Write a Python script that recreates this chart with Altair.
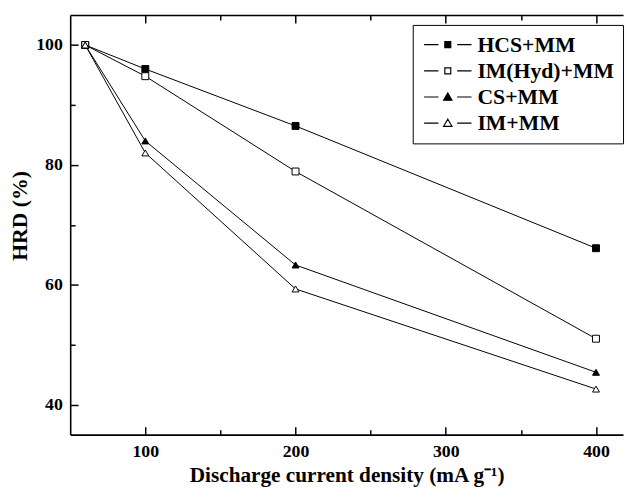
import altair as alt
import pandas as pd

# ---- data ----
series = ["HCS+MM", "IM(Hyd)+MM", "CS+MM", "IM+MM"]
current = [60, 100, 200, 400]
hcs = [100, 96.0, 86.5, 66.1]
imhyd = [100, 94.8, 78.9, 51.0]
cs = [100, 84.0, 63.3, 45.4]
im = [100, 82.0, 59.3, 42.6]

x_labels = [100, 200, 300, 400]
x_all_ticks = [100, 150, 200, 250, 300, 350, 400]
y_labels = [40, 60, 80, 100]
y_all_ticks = [40, 50, 60, 70, 80, 90, 100]

rows = []
for name, vals in zip(series, [hcs, imhyd, cs, im]):
    for c, v in zip(current, vals):
        rows.append({"series": name, "current": c, "hrd": v})
df = pd.DataFrame(rows)

W, H = 560, 425
FONT = "Liberation Serif"
xscale = alt.Scale(domain=[50, 418], nice=False, zero=False)
yscale = alt.Scale(domain=[35, 105], nice=False, zero=False)

shape_plot = alt.Scale(domain=series, range=["square", "square", "triangle-up", "triangle-up"])
size_plot = alt.Scale(domain=series, range=[49, 49, 85, 85])
fill_scale = alt.Scale(domain=series, range=["black", "white", "black", "white"])
stroke_scale = alt.Scale(domain=series, range=["black", "black", "black", "black"])

sq_path = "M-2.4,0H-0.95M0.95,0H2.4M-0.3,-0.3H0.3V0.3H-0.3Z"
tri_path = "M-2.4,0H-0.95M0.95,0H2.4M0,-0.4L0.42,0.32L-0.42,0.32Z"
shape_legend = alt.Scale(domain=series, range=[sq_path, sq_path, tri_path, tri_path])

base = alt.Chart(df)

x_main = alt.X(
    "current:Q", scale=xscale,
    axis=alt.Axis(values=x_labels, ticks=False, grid=False, domain=True,
                  domainColor="black", domainWidth=1.6,
                  labelFont=FONT, labelFontSize=18, labelFontWeight="bold",
                  labelColor="black", labelPadding=8,
                  title="Discharge current density (mA g\u207b\u00b9)",
                  titleFont=FONT, titleFontSize=21.5, titleFontWeight="bold",
                  titleColor="black", titlePadding=4),
)
y_main = alt.Y(
    "hrd:Q", scale=yscale,
    axis=alt.Axis(values=y_labels, ticks=False, grid=False, domain=True,
                  domainColor="black", domainWidth=1.6,
                  labelFont=FONT, labelFontSize=18, labelFontWeight="bold",
                  labelColor="black", labelPadding=8,
                  title="HRD (%)", titleY=203,
                  titleFont=FONT, titleFontSize=22, titleFontWeight="bold",
                  titleColor="black", titlePadding=4),
)

lines = base.mark_line(color="black", strokeWidth=1).encode(
    x=x_main, y=y_main, detail="series:N"
)

points = base.mark_point(filled=True, stroke="black", strokeWidth=1, opacity=1).encode(
    x=alt.X("current:Q", scale=xscale, axis=None),
    y=alt.Y("hrd:Q", scale=yscale, axis=None),
    shape=alt.Shape("series:N", scale=shape_plot, legend=None),
    size=alt.Size("series:N", scale=size_plot, legend=None),
    fill=alt.Fill("series:N", scale=fill_scale, legend=None),
)

legend_cfg = alt.Legend(
    title=None, orient="none", legendX=347, legendY=10,
    strokeColor="black", fillColor="white", padding=9,
    symbolSize=400, symbolOffset=15.5, labelOffset=19,
    symbolStrokeWidth=1.2, symbolOpacity=1,
    labelFont=FONT, labelFontSize=22, labelFontWeight="bold", labelColor="black",
    rowPadding=4.5, values=series,
)
legend_layer = base.mark_point(size=0, strokeWidth=1.2, filled=True).encode(
    x=alt.X("current:Q", scale=xscale, axis=None),
    y=alt.Y("hrd:Q", scale=yscale, axis=None),
    shape=alt.Shape("series:N", scale=shape_legend, legend=legend_cfg, sort=series),
    fill=alt.Fill("series:N", scale=fill_scale, legend=legend_cfg, sort=series),
    stroke=alt.Stroke("series:N", scale=stroke_scale, legend=legend_cfg, sort=series),
)

x_tick_size = {"condition": {"test": "datum.value % 100 === 0", "value": 8}, "value": 5}
y_tick_size = {"condition": {"test": "datum.value % 20 === 0", "value": 8}, "value": 5}

# inward ticks on bottom edge and left edge
ticks_bl = base.mark_point(opacity=0, size=0).encode(
    x=alt.X("current:Q", scale=xscale,
            axis=alt.Axis(orient="top", offset=-H, values=x_all_ticks, labels=False,
                          domain=False, grid=False, title=None, tickColor="black",
                          tickWidth=1.5, tickSize=x_tick_size)),
    y=alt.Y("hrd:Q", scale=yscale,
            axis=alt.Axis(orient="right", offset=-W, values=y_all_ticks, labels=False,
                          domain=False, grid=False, title=None, tickColor="black",
                          tickWidth=1.5, tickSize=y_tick_size)),
)
# inward ticks and border on top edge
ticks_top = base.mark_point(opacity=0, size=0).encode(
    x=alt.X("current:Q", scale=xscale,
            axis=alt.Axis(orient="bottom", offset=-H, values=x_all_ticks, labels=False,
                          domain=True, domainColor="black", domainWidth=1.6,
                          grid=False, title=None, tickColor="black",
                          tickWidth=1.5, tickSize=x_tick_size)),
    y=alt.Y("hrd:Q", scale=yscale, axis=None),
)

chart = alt.layer(lines, points, legend_layer, ticks_bl, ticks_top).resolve_scale(
    shape="independent", size="independent", fill="independent", stroke="independent"
).resolve_axis(
    x="independent", y="independent"
).properties(
    width=W, height=H,
    autosize=alt.AutoSizeParams(type="none"),
    padding={"left": 63, "top": 4, "right": 2, "bottom": 56},
    background="white",
).configure_view(strokeWidth=0)

chart.save("out.html", embed_options={"renderer": "svg", "actions": False})
